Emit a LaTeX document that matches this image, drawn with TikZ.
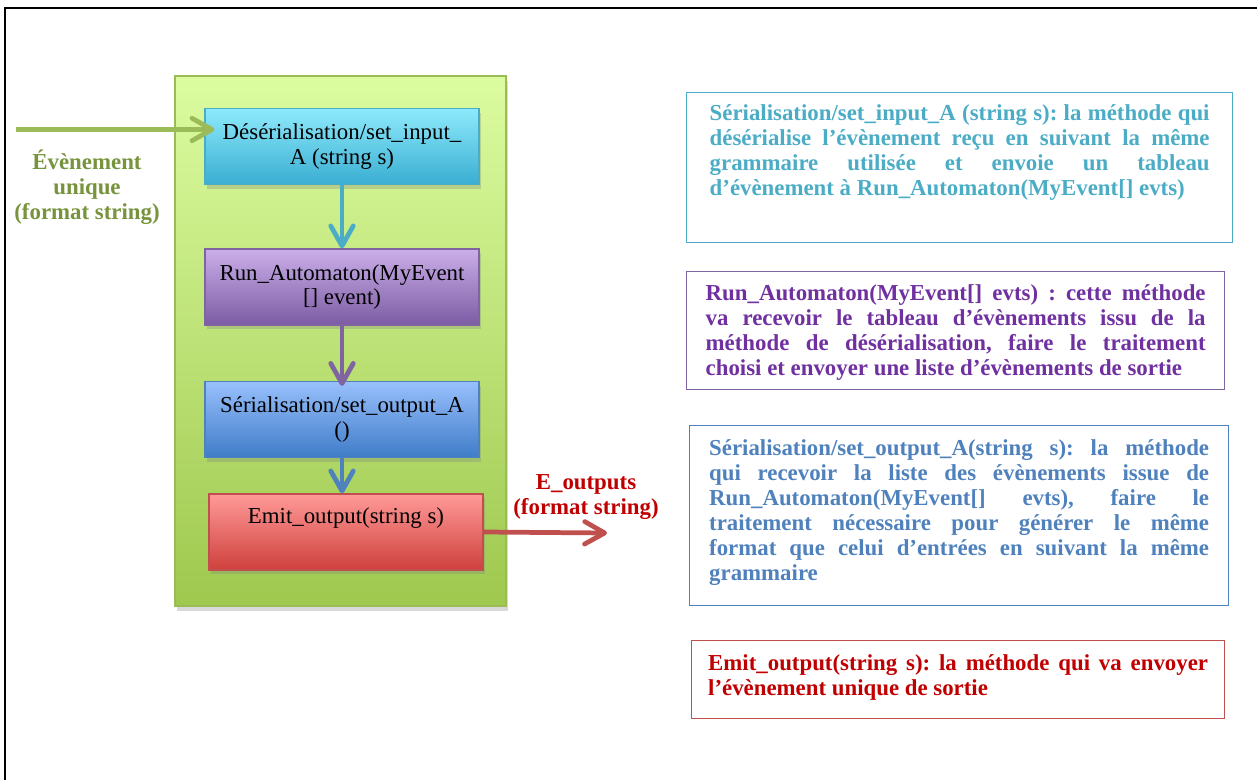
\documentclass[tikz,border=0pt]{standalone}
\usepackage{fontspec}
\setmainfont{Liberation Serif}
\usetikzlibrary{arrows.meta,shadows}

\definecolor{inputcyan}{RGB}{75,172,198}
\definecolor{autopurple}{RGB}{128,100,162}
\definecolor{outputblue}{RGB}{79,129,189}
\definecolor{emitred}{RGB}{192,80,77}
\definecolor{coregreen}{RGB}{155,187,89}
\definecolor{labelgreen}{RGB}{119,147,60}
\definecolor{labelred}{RGB}{192,0,0}
\definecolor{notepurple}{RGB}{112,48,160}
% gradient ends
\definecolor{coretop}{RGB}{220,252,160}
\definecolor{corebottom}{RGB}{158,200,78}
\definecolor{cyantop}{RGB}{142,234,252}
\definecolor{cyanbottom}{RGB}{58,174,210}
\definecolor{purpletop}{RGB}{202,174,232}
\definecolor{purplebottom}{RGB}{124,92,164}
\definecolor{bluetop}{RGB}{152,192,252}
\definecolor{bluebottom}{RGB}{64,124,200}
\definecolor{redtop}{RGB}{255,154,152}
\definecolor{redbottom}{RGB}{206,64,60}

\begin{document}
\begin{tikzpicture}[x=0.02cm,y=-0.02cm,
	font=\fontsize{13}{14.2}\selectfont,
	method/.style={draw=#1, line width=0.8pt, minimum width=5.48cm, minimum height=1.52cm, align=center, inner sep=0pt,
		drop shadow={opacity=0.3,shadow xshift=1pt,shadow yshift=-2.5pt}},
	note/.style={draw=#1, line width=0.8pt, text width=10cm, inner ysep=0pt, align=justify, anchor=north west,
		font=\fontsize{13}{14.2}\selectfont\bfseries\frenchspacing},
	flow/.style={line width=2.7pt, -{Straight Barb[length=4mm,width=4.5mm,round]}}
	]
	\useasboundingbox (0,0) rectangle (1257,780);

	% Frame
	\draw[line width=1.2pt] (5,780) -- (5,8) -- (1257,8);

	% Component
	\node[draw=coregreen, line width=0.8pt, top color=coretop, bottom color=corebottom,
		minimum width=6.62cm, minimum height=10.6cm, drop shadow={opacity=0.3,shadow xshift=1pt,shadow yshift=-3pt}] (core) at (340.5,341) {};

	\node[method=inputcyan, top color=cyantop, bottom color=cyanbottom] (deser) at (342,146.5) {Désérialisation/set\_input\_\\A (string s)};
	\node[method=autopurple, top color=purpletop, bottom color=purplebottom] (runauto) at (342,287) {Run\_Automaton(MyEvent\\{[]} event)};
	\node[method=outputblue, top color=bluetop, bottom color=bluebottom] (serout) at (342,419.5) {Sérialisation/set\_output\_A\\()};
	\node[method=emitred, top color=redtop, bottom color=redbottom, text height=0.58cm, text depth=0.94cm] (emit) at (346,532) {Emit\_output(string s)};

	% Input and output
	\coordinate (intail) at (16,129.5);
	\coordinate (outtip) at (607,533);
	\node[font=\fontsize{13}{14.2}\selectfont\bfseries, text=labelgreen, align=center] (inlabel) at (87,187.5) {Évènement\\unique\\(format string)};
	\node[font=\fontsize{13}{14.2}\selectfont\bfseries, text=labelred, align=center] (outlabel) at (586,497) {E\_outputs\\(format string)};

	\draw[flow, coregreen, shorten >=-0.2cm] (intail) -- (intail -| deser.west);
	\draw[flow, inputcyan] (deser.south) -- (runauto.north);
	\draw[flow, autopurple, shorten >=-0.1cm] (runauto.south) -- (serout.north);
	\draw[flow, outputblue] (serout.south) -- (serout.south |- emit.north);
	\draw[flow, emitred] (emit.east) -- (outtip);

	% Notes
	\node[note=inputcyan, text=inputcyan, inner xsep=0.46cm, text height=0.56cm, text depth=2.44cm] (noteinput) at (686,92)
		{Sérialisation/set\_input\_A (string s): la méthode qui \linebreak
		désérialise l’évènement reçu en suivant la même \linebreak
		grammaire utilisée et envoie un tableau \linebreak
		d’évènement à Run\_Automaton(MyEvent[] evts)};
	\node[note=autopurple, text=notepurple, inner xsep=0.38cm, text height=0.58cm, text depth=1.78cm] (noteauto) at (686,271)
		{Run\_Automaton(MyEvent[] evts) : cette méthode \linebreak
		va recevoir le tableau d’évènements issu de la \linebreak
		méthode de désérialisation, faire le traitement \linebreak
		choisi et envoyer une liste d’évènements de sortie};
	\node[note=outputblue, text=outputblue, inner xsep=0.39cm, text height=0.6cm, text depth=3.0cm] (noteoutput) at (689,425)
		{Sérialisation/set\_output\_A(string s): la méthode \linebreak
		qui recevoir la liste des évènements issue de \linebreak
		Run\_Automaton(MyEvent[] evts), faire le \linebreak
		traitement nécessaire pour générer le même \linebreak
		format que celui d’entrées en suivant la même \linebreak
		grammaire};
	\node[note=emitred, text=labelred, inner xsep=0.33cm, text height=0.6cm, text depth=0.96cm] (noteemit) at (691,640)
		{Emit\_output(string s): la méthode qui va envoyer \linebreak
		l’évènement unique de sortie};
\end{tikzpicture}
\end{document}
